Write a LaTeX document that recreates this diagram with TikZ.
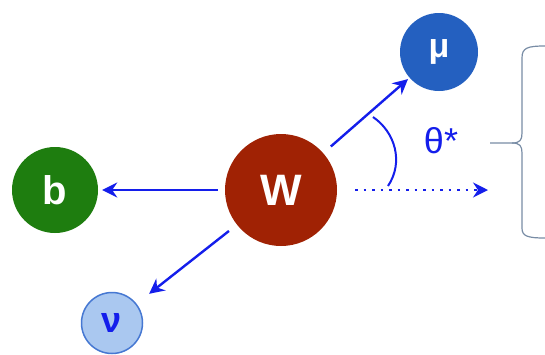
\documentclass[tikz,border=0pt]{standalone}
\usepackage{fontspec}
\setmainfont{Liberation Sans}
\usetikzlibrary{arrows.meta}
\definecolor{wred}{RGB}{160,34,4}
\definecolor{bgreen}{RGB}{30,125,15}
\definecolor{mublue}{RGB}{36,96,192}
\definecolor{nufill}{RGB}{170,200,240}
\definecolor{nuline}{RGB}{70,120,210}
\definecolor{arrblue}{RGB}{20,30,235}
\definecolor{bracegray}{RGB}{120,140,165}

\begin{document}
\begin{tikzpicture}[x=1pt,y=-1pt,
  part/.style={circle,inner sep=0pt,text=white},
  decay/.style={draw=arrblue,line width=2.4pt,-{Stealth[length=15pt,width=15pt,inset=5pt]}}]
\useasboundingbox (0,0) rectangle (545,354);
\node[part,fill=wred,minimum size=112pt,font=\bfseries\fontsize{44}{44}\selectfont] (W) at (281,190) {W};
\node[part,fill=bgreen,minimum size=86pt,font=\bfseries\fontsize{40}{40}\selectfont] (b) at (55,190) {b};
\node[part,fill=mublue,minimum size=78pt,font=\bfseries\fontsize{34}{34}\selectfont] (mu) at (439,52) {μ};
\node[part,fill=nufill,draw=nuline,line width=1.5pt,text=arrblue,minimum size=61pt,font=\bfseries\fontsize{36}{36}\selectfont] (nu) at (112,323) {ν};
\coordinate (axis) at (488,190);
\draw[decay,shorten <=7pt,shorten >=4pt] (W) -- (b);
\draw[decay,shorten <=10pt,shorten >=2pt] (W) -- (mu);
\draw[decay,shorten <=10pt,shorten >=16pt] (W) -- (nu);
\draw[decay,dash pattern=on 2.5pt off 6pt,shorten <=18pt] (W) -- (axis);
\draw[arrblue,line width=2pt] (373,117) .. controls (395,132) and (404,162) .. (388,186);
\node[text=arrblue,font=\fontsize{36}{36}\selectfont] (theta) at (441,141) {θ*};
\draw[bracegray,line width=1.2pt] (545,46) .. controls (527,46) and (522,48) .. (522,58) -- (522,133)
  .. controls (522,140) and (520,143) .. (512,143) -- (490,143);
\draw[bracegray,line width=1.2pt] (512,143) .. controls (520,143) and (522,146) .. (522,153) -- (522,228)
  .. controls (522,236) and (527,238) .. (545,238);
\end{tikzpicture}
\end{document}
